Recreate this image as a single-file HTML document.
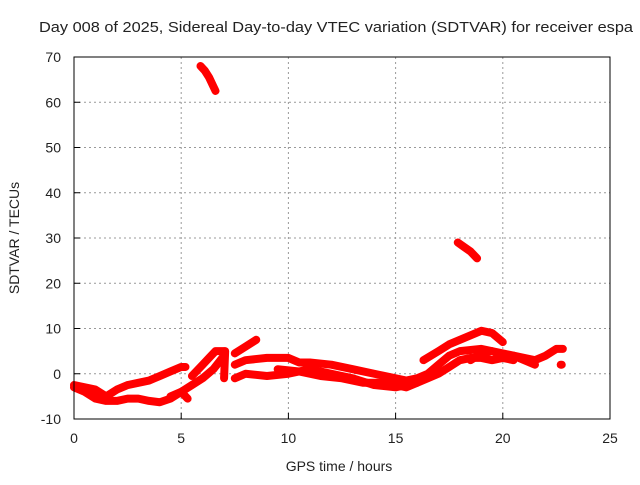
<!DOCTYPE html>
<html><head><meta charset="utf-8"><style>
body{margin:0;background:#fff}
svg text{font-family:"Liberation Sans",sans-serif;font-size:14px;fill:#222}
</style></head><body>
<svg id="chart" width="640" height="480" xmlns="http://www.w3.org/2000/svg">
<rect width="640" height="480" fill="#fff"/>
<text x="39" y="32" textLength="594" lengthAdjust="spacingAndGlyphs" style="font-size:15px">Day 008 of 2025, Sidereal Day-to-day VTEC variation (SDTVAR) for receiver espa</text>
<g id="grid"></g>
<g id="ticks"></g>
<g id="series"></g>
<rect x="74" y="57" width="536" height="362" fill="none" stroke="#000" stroke-width="1"/>
<text x="339" y="471" text-anchor="middle">GPS time / hours</text>
<text transform="translate(19,238) rotate(-90)" text-anchor="middle">SDTVAR / TECUs</text>
</svg>
<script>
const xTicks=[0,5,10,15,20,25];
const yTicks=[-10,0,10,20,30,40,50,60,70];
const tracksX=[
[5.9,6.1,6.3,6.5,6.6],
[17.9,18.2,18.5,18.8],
[0,0.5,1,1.5,2,2.5,3,3.5,4,4.5,5,5.2],
[0,0.5,1,1.5,2,2.5,3,3.5,4,4.5,5,5.3],
[4.5,5,5.5,6,6.5,7],
[5.5,6,6.3,6.6,7],
[7.5,8,8.5],
[7.5,8,9,10,10.5,11,12,13,14,15,15.5,16,16.5,17,17.5,18,19,20,21,21.5,22,22.5,22.8],
[7.5,8,9,10,11,12,13,14,15,15.5,16,17,17.5,18,18.5,19,19.5,20,20.5],
[16.3,17,17.5,18,18.5,19,19.5,20],
[9.5,10.5,11.5,12.5,13.5,14.5,15.5,16],
[18.5,19,19.5,20,20.5,21,21.5],
[7,7.05],
[22.7,22.75]
];
const tracksY=[
[68,67,65.5,63.5,62.5],
[29,28,27,25.5],
[-2.5,-3,-3.5,-5,-3.5,-2.5,-2,-1.5,-0.5,0.5,1.5,1.5],
[-3,-4,-5.5,-6,-6,-5.5,-5.5,-6,-6.3,-5.5,-4,-5.5],
[-5,-4,-2.5,-1,1,4],
[-0.5,2,3.5,5,5],
[4.5,6,7.5],
[2,3,3.5,3.5,2.5,2.5,2,1,0,-1,-1.5,-1,0,2,4,5,5.5,4.5,3.5,3,4,5.5,5.5],
[-1,0,-0.5,0,1,0,-1,-2.5,-3,-2.5,-2,0,1.5,3,3.5,3.5,3,3.5,3],
[3,5,6.5,7.5,8.5,9.5,9,7],
[1,0.5,-0.5,-1,-2,-2,-3,-2],
[3,4.5,5,4,4,3,2],
[-1,5],
[2,2]
];
const X0=74,X1=610,Y0=419,Y1=57;
const sx=v=>X0+(v-0)/(25-0)*(X1-X0);
const sy=v=>Y0-(v+10)/(80)*(Y0-Y1);
const NS="http://www.w3.org/2000/svg";
const g=document.getElementById('grid'),t=document.getElementById('ticks'),s=document.getElementById('series');
function mk(tag,attrs,parent){const e=document.createElementNS(NS,tag);for(const k in attrs)e.setAttribute(k,attrs[k]);parent.appendChild(e);return e;}
xTicks.forEach(v=>{
 if(v>0&&v<25){const l=mk('line',{x1:sx(v),x2:sx(v),y1:Y0,y2:Y1,stroke:'#999','stroke-dasharray':'2,3'},g);
 
 }
 const tk=mk('line',{x1:sx(v),x2:sx(v),y1:Y0,y2:Y0-6,stroke:'#000'},t);
 
 
 const tx=mk('text',{x:sx(v),y:Y0+24,'text-anchor':'middle'},t);tx.textContent=v;
 
 
});
yTicks.forEach(v=>{
 if(v>-10&&v<70){const l=mk('line',{x1:X0,x2:X1,y1:sy(v),y2:sy(v),stroke:'#999','stroke-dasharray':'2,3'},g);
 
 }
 const tk=mk('line',{x1:X0,x2:X0+6,y1:sy(v),y2:sy(v),stroke:'#000'},t);
 
 
 const tx=mk('text',{x:X0-13,y:sy(v)+5,'text-anchor':'end'},t);tx.textContent=v;
 
 
});
tracksX.forEach((xs,i)=>{
 const pts=xs.map((x,j)=>sx(x)+','+sy(tracksY[i][j])).join(' ');
 const p=mk('polyline',{points:pts,fill:'none',stroke:'#f00','stroke-width':8,'stroke-linecap':'round','stroke-linejoin':'round'},s);
 
 
});
</script>
</body></html>
